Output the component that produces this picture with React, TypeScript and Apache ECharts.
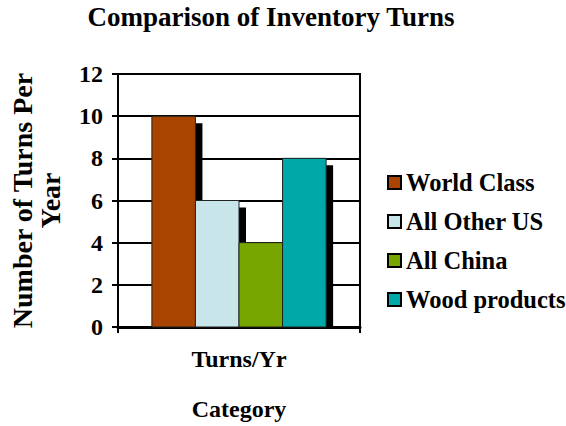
import React, { useEffect, useRef } from "react";
import * as echarts from "echarts";

const categories = ["Turns/Yr"];
const seriesNames = ["World Class", "All Other US", "All China", "Wood products"];
const seriesValues = [10, 6, 4, 8];
const seriesColors = ["#A84400", "#C8E5EA", "#78A600", "#00A8A8"];
const yTicks = [0, 2, 4, 6, 8, 10, 12];

const FONT = "Liberation Serif";

export default function App() {
  const ref = useRef<HTMLDivElement>(null);
  useEffect(() => {
    if (!ref.current) return;
    const chart = echarts.init(ref.current, null, { renderer: "svg" });
    const n = seriesNames.length;
    const series = seriesNames.map((name, idx) => ({
      name,
      type: "custom",
      itemStyle: { color: seriesColors[idx] },
      encode: { x: 0, y: 1 },
      data: [[0, seriesValues[idx]]],
      renderItem: (params: any, api: any) => {
        const base = api.coord([api.value(0), 0]);
        const top = api.coord([api.value(0), api.value(1)]);
        const band = api.size([1, 0])[0];
        const groupW = band * 0.72;
        const w = groupW / n;
        const x0 = base[0] - groupW / 2 + idx * w;
        const h = base[1] - top[1];
        return {
          type: "group",
          children: [
            {
              type: "rect",
              z2: idx * 2,
              shape: { x: x0 + w, y: top[1] + 7, width: 7, height: Math.max(0, h - 7) },
              style: { fill: "#000" },
            },
            {
              type: "rect",
              z2: idx * 2 + 1,
              shape: { x: x0, y: top[1], width: w, height: h },
              style: { fill: seriesColors[idx], stroke: "#222", lineWidth: 1 },
            },
          ],
        };
      },
    }));
    chart.setOption({
      animation: false,
      title: {
        text: "Comparison of Inventory Turns",
        left: 271,
        textAlign: "center",
        top: 3,
        padding: 0,
        textStyle: { fontFamily: FONT, fontWeight: "bold", fontSize: 27, color: "#000" },
      },
      legend: {
        orient: "vertical",
        left: 387,
        top: 170,
        padding: 0,
        itemWidth: 13,
        itemHeight: 13,
        itemGap: 14,
        icon: "rect",
        itemStyle: { borderColor: "#000", borderWidth: 2 },
        textStyle: { fontFamily: FONT, fontWeight: "bold", fontSize: 24.5, color: "#000" },
        data: seriesNames,
      },
      grid: {
        left: 118,
        right: 206,
        top: 74,
        bottom: 99,
        show: true,
        borderColor: "#000",
        borderWidth: 2,
        backgroundColor: "transparent",
      },
      xAxis: {
        type: "category",
        data: categories,
        name: "Category",
        nameLocation: "middle",
        nameGap: 70,
        nameTextStyle: { fontFamily: FONT, fontWeight: "bold", fontSize: 24, color: "#000" },
        axisLine: { lineStyle: { color: "#000", width: 3 } },
        axisTick: { show: true, length: 6, lineStyle: { color: "#000", width: 2 } },
        axisLabel: { margin: 20, fontFamily: FONT, fontWeight: "bold", fontSize: 24, color: "#000" },
      },
      yAxis: {
        type: "value",
        min: yTicks[0],
        max: yTicks[yTicks.length - 1],
        interval: 2,
        name: "Number of Turns Per\nYear",
        nameLocation: "middle",
        nameGap: 54,
        nameTextStyle: { fontFamily: FONT, fontWeight: "bold", fontSize: 28, color: "#000", lineHeight: 28 },
        axisLine: { show: true, lineStyle: { color: "#000", width: 2 } },
        axisTick: { show: true, length: 6, lineStyle: { color: "#000", width: 2 } },
        axisLabel: { margin: 15, fontFamily: FONT, fontWeight: "bold", fontSize: 24, color: "#000" },
        splitLine: { show: true, lineStyle: { color: "#000", width: 2 } },
      },
      series,
    });
    return () => chart.dispose();
  }, []);
  return <div ref={ref} style={{ width: 566, height: 426, position: "absolute", left: 0, top: 0 }} />;
}
